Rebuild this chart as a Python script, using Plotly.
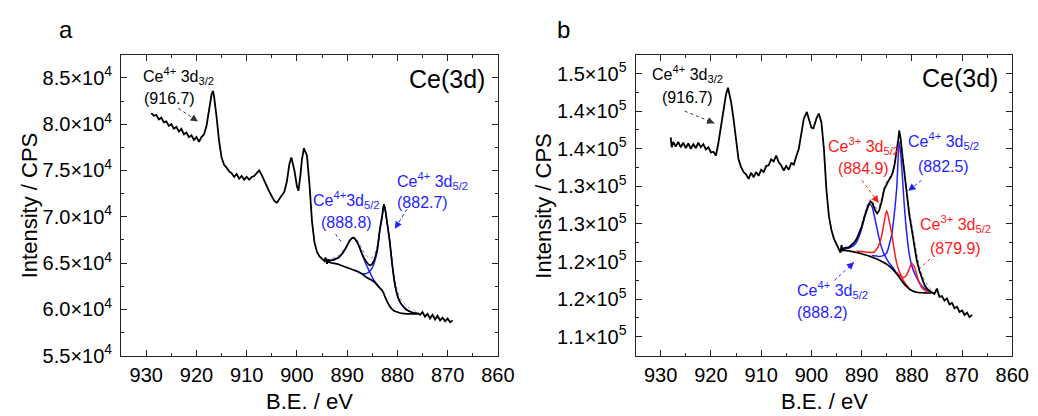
import plotly.graph_objects as go

FONT = "Liberation Sans, Arial, sans-serif"
BLUE = "#1f1fff"
RED = "#ff1a1a"
AX = "#222222"

# ---------------- panel a : Ce(3d), intensities in units of 1e4 CPS ----------------
a_raw_be = [929.0, 928.5, 928.0, 927.5, 927.0, 926.5, 926.0, 925.5, 925.0, 924.5,
            924.0, 923.5, 923.0, 922.5, 922.0, 921.5, 921.0, 920.5, 920.0, 919.5,
            919.0, 918.5, 918.0, 917.5, 917.0, 916.7, 916.5, 916.0, 915.5, 915.0,
            914.5, 914.0, 913.5, 913.0, 912.5, 912.0, 911.5, 911.0, 910.5, 910.0,
            909.5, 909.0, 908.5, 908.0, 907.5, 907.0, 906.5, 906.0, 905.5, 905.0,
            904.5, 904.0, 903.5, 903.0, 902.5, 902.0, 901.5, 901.1, 900.5, 900.0,
            899.7, 899.3, 899.0, 898.6, 898.0, 897.5, 897.0, 896.5, 896.0, 895.5,
            895.0, 894.5, 894.3, 894.0, 893.8, 893.5]
a_raw = [8.12, 8.09, 8.10, 8.05, 8.07, 8.02, 8.03, 7.98, 8.00, 7.95,
         7.97, 7.92, 7.95, 7.89, 7.91, 7.86, 7.88, 7.83, 7.86, 7.81,
         7.86, 7.89, 7.98, 8.15, 8.32, 8.36, 8.30, 8.08, 7.82, 7.64,
         7.56, 7.53, 7.49, 7.47, 7.43, 7.46, 7.41, 7.44, 7.40, 7.43,
         7.40, 7.43, 7.44, 7.47, 7.50, 7.45, 7.38, 7.33, 7.27, 7.22,
         7.17, 7.15, 7.19, 7.22, 7.27, 7.38, 7.57, 7.64, 7.50, 7.33,
         7.28, 7.45, 7.62, 7.74, 7.66, 7.35, 6.95, 6.72, 6.62, 6.57,
         6.54, 6.52, 6.56, 6.49, 6.54, 6.50]

a_tail_be = [876.0, 875.5, 875.0, 874.5, 874.0, 873.5, 873.0, 872.5, 872.0, 871.5,
             871.0, 870.5, 870.0, 869.5, 869.0]
a_tail = [5.96, 5.94, 5.97, 5.92, 5.95, 5.90, 5.94, 5.89, 5.93, 5.88,
          5.91, 5.87, 5.90, 5.86, 5.88]

a_fit_be = [894.0, 893.5, 893.0, 892.5, 892.0, 891.5, 891.0, 890.5, 890.0, 889.5,
            889.0, 888.5, 888.0, 887.5, 887.0, 886.5, 886.0, 885.5, 885.0, 884.5,
            884.0, 883.5, 883.0, 882.7, 882.5, 882.0, 881.5, 881.0, 880.5, 880.0,
            879.5, 879.0, 878.5, 878.0, 877.5, 877.0, 876.5, 876.0]
a_env = [6.53, 6.53, 6.53, 6.54, 6.55, 6.57, 6.60, 6.64, 6.69, 6.74,
         6.77, 6.765, 6.725, 6.665, 6.595, 6.54, 6.50, 6.475, 6.49, 6.55,
         6.65, 6.86, 7.02, 7.13, 7.10, 6.92, 6.72, 6.47, 6.27, 6.15,
         6.08, 6.04, 6.01, 5.99, 5.975, 5.965, 5.958, 5.955]
a_bg = [6.52, 6.51, 6.50, 6.495, 6.49, 6.48, 6.47, 6.46, 6.45, 6.44,
        6.43, 6.42, 6.41, 6.395, 6.38, 6.36, 6.34, 6.325, 6.31, 6.29,
        6.26, 6.23, 6.20, 6.17, 6.14, 6.08, 6.03, 6.00, 5.98, 5.97,
        5.96, 5.955, 5.952, 5.95, 5.95, 5.95, 5.95, 5.95]

# Ce4+ 3d5/2 (888.8)
a_c1_be = [894.0, 893.5, 893.0, 892.5, 892.0, 891.5, 891.0, 890.5, 890.0, 889.5,
           889.0, 888.5, 888.0, 887.5, 887.0, 886.5, 886.0, 885.5, 885.0, 884.5,
           884.0, 883.5, 883.0]
a_c1 = [6.525, 6.525, 6.53, 6.535, 6.55, 6.57, 6.60, 6.64, 6.69, 6.74,
        6.77, 6.76, 6.72, 6.66, 6.59, 6.52, 6.46, 6.40, 6.345, 6.30,
        6.265, 6.232, 6.20]
# Ce4+ 3d5/2 (882.7)
a_c2_be = [888.5, 888.0, 887.5, 887.0, 886.5, 886.0, 885.5, 885.0, 884.5, 884.0,
           883.5, 883.0, 882.7, 882.5, 882.0, 881.5, 881.0, 880.5, 880.0, 879.5,
           879.0, 878.5, 878.0, 877.5, 877.0, 876.5, 876.0]
a_c2 = [6.42, 6.41, 6.398, 6.385, 6.383, 6.39, 6.41, 6.45, 6.52, 6.63,
        6.85, 7.01, 7.13, 7.10, 6.92, 6.72, 6.47, 6.27, 6.15, 6.08,
        6.04, 6.01, 5.99, 5.975, 5.965, 5.958, 5.955]

a_dots_be = [893.0, 892.5, 892.0, 891.5, 891.0, 890.5, 890.0, 889.5, 889.0, 888.5,
             888.0, 887.5, 887.0, 886.5, 886.0, 885.5, 885.0, 884.5, 884.0, 883.5,
             883.0, 882.5, 882.0, 881.5, 881.0, 880.5, 880.0, 879.5, 879.0, 878.5,
             878.0, 877.5, 877.0, 876.5, 876.0]
a_dots = [6.55, 6.56, 6.57, 6.59, 6.62, 6.66, 6.70, 6.75, 6.78, 6.78,
          6.75, 6.70, 6.64, 6.60, 6.57, 6.55, 6.56, 6.60, 6.69, 6.88,
          7.03, 7.09, 6.93, 6.74, 6.50, 6.31, 6.20, 6.12, 6.08, 6.05,
          6.03, 6.01, 6.00, 5.98, 5.97]

# ---------------- panel b : Ce(3d), intensities in units of 1e5 CPS ----------------
b_raw_be = [928.0, 927.8, 927.5, 927.0, 926.5, 926.0, 925.5, 925.0, 924.5, 924.0,
            923.5, 923.0, 922.5, 922.0, 921.5, 921.0, 920.5, 920.0, 919.5, 919.0,
            918.5, 918.0, 917.5, 917.0, 916.6, 916.0, 915.5, 915.0, 914.5, 914.0,
            913.5, 913.0, 912.5, 912.0, 911.5, 911.0, 910.5, 910.0, 909.5, 909.0,
            908.5, 908.0, 907.5, 907.0, 906.5, 906.0, 905.5, 905.0, 904.5, 904.0,
            903.5, 903.0, 902.5, 902.0, 901.5, 900.9, 900.5, 900.0, 899.6, 899.0,
            898.5, 898.0, 897.5, 897.0, 896.5, 896.0, 895.5, 895.0, 894.5, 894.2,
            894.0, 893.8, 893.5, 893.0, 892.5, 892.0, 891.5, 891.0, 890.5, 890.0,
            889.5, 889.0, 888.5, 888.2, 887.8, 887.3, 886.9, 886.5, 886.0, 885.5,
            885.0, 884.6, 884.2, 883.8, 883.4, 883.0, 882.7, 882.5, 882.2, 881.9,
            881.5, 881.0, 880.5, 880.0, 879.5, 879.0, 878.5, 878.0, 877.5, 877.0,
            876.5, 876.0, 875.5, 875.0, 874.5, 874.0, 873.5, 873.0, 872.5, 872.0,
            871.5, 871.0, 870.5, 870.0, 869.5, 869.0, 868.5, 868.0]
b_raw = [1.415, 1.402, 1.409, 1.403, 1.409, 1.402, 1.408, 1.401, 1.407, 1.400,
         1.406, 1.401, 1.408, 1.402, 1.406, 1.399, 1.402, 1.395, 1.396, 1.391,
         1.408, 1.428, 1.452, 1.472, 1.481, 1.463, 1.440, 1.410, 1.386, 1.376,
         1.369, 1.366, 1.360, 1.368, 1.362, 1.369, 1.364, 1.372, 1.369, 1.377,
         1.378, 1.386, 1.383, 1.391, 1.382, 1.378, 1.371, 1.377, 1.372, 1.381,
         1.379, 1.390, 1.400, 1.420, 1.440, 1.449, 1.441, 1.428, 1.427, 1.440,
         1.447, 1.435, 1.400, 1.345, 1.310, 1.292, 1.280, 1.273, 1.268, 1.262,
         1.272, 1.264, 1.268, 1.268, 1.269, 1.272, 1.275, 1.280, 1.287, 1.296,
         1.308, 1.319, 1.327, 1.330, 1.327, 1.318, 1.314, 1.318, 1.330, 1.346,
         1.354, 1.358, 1.362, 1.368, 1.380, 1.396, 1.412, 1.424, 1.412, 1.392,
         1.370, 1.338, 1.312, 1.292, 1.270, 1.251, 1.238, 1.227, 1.219, 1.214,
         1.211, 1.209, 1.207, 1.214, 1.203, 1.204, 1.198, 1.201, 1.193, 1.195,
         1.188, 1.190, 1.183, 1.185, 1.179, 1.182, 1.176, 1.179]

b_fit_be = [894.0, 893.5, 893.0, 892.5, 892.0, 891.5, 891.0, 890.5, 890.0, 889.5,
            889.0, 888.5, 888.0, 887.5, 887.0, 886.5, 886.0, 885.5, 885.0, 884.5,
            884.0, 883.5, 883.0, 882.5, 882.0, 881.5, 881.0, 880.5, 880.0, 879.5,
            879.0, 878.5, 878.0, 877.5, 877.0, 876.5, 876.0]
b_bg = [1.2650, 1.2648, 1.2645, 1.2640, 1.2635, 1.2628, 1.2620, 1.2612, 1.2603, 1.2593,
        1.2583, 1.2572, 1.2560, 1.2547, 1.2533, 1.2518, 1.2502, 1.2485, 1.2465, 1.2440,
        1.2410, 1.2375, 1.2335, 1.2290, 1.2245, 1.2200, 1.2165, 1.2135, 1.2115, 1.2100,
        1.2092, 1.2088, 1.2085, 1.2083, 1.2082, 1.2082, 1.2082]

# Ce4+ 3d5/2 (888.2)
b_b1_be = [894.0, 893.5, 893.0, 892.5, 892.0, 891.5, 891.0, 890.5, 890.0, 889.5,
           889.0, 888.5, 888.0, 887.5, 887.0, 886.5, 886.0, 885.5, 885.0, 884.5,
           884.0, 883.5, 883.0]
b_b1 = [1.2660, 1.2668, 1.2675, 1.2680, 1.2695, 1.2718, 1.2760, 1.2832, 1.2933, 1.3063,
        1.3193, 1.3262, 1.3240, 1.3117, 1.2963, 1.2808, 1.2682, 1.2595, 1.2535, 1.2480,
        1.2440, 1.2395, 1.2345]
# Ce3+ 3d5/2 (884.9)
b_r1_be = [891.0, 890.5, 890.0, 889.5, 889.0, 888.5, 888.0, 887.5, 887.0, 886.5,
           886.0, 885.5, 885.0, 884.5, 884.0, 883.5, 883.0, 882.5, 882.0, 881.5,
           881.0, 880.5]
b_r1 = [1.2640, 1.2637, 1.2633, 1.2628, 1.2623, 1.2622, 1.2620, 1.2627, 1.2663, 1.2728,
        1.2842, 1.3025, 1.3175, 1.3040, 1.2870, 1.2655, 1.2475, 1.2370, 1.2295, 1.2230,
        1.2185, 1.2145]
# Ce4+ 3d5/2 (882.5)
b_b2_be = [888.0, 887.5, 887.0, 886.5, 886.0, 885.5, 885.0, 884.5, 884.0, 883.5,
           883.0, 882.5, 882.0, 881.5, 881.0, 880.5, 880.0, 879.5, 879.0, 878.5,
           878.0, 877.5, 877.0, 876.5, 876.0]
b_b2 = [1.2580, 1.2577, 1.2573, 1.2568, 1.2572, 1.2585, 1.2615, 1.2720, 1.2860, 1.3125,
        1.3485, 1.4090, 1.3745, 1.3250, 1.2865, 1.2595, 1.2445, 1.2350, 1.2282, 1.2218,
        1.2175, 1.2143, 1.2122, 1.2102, 1.2092]
# Ce3+ 3d5/2 (879.9)
b_r2_be = [883.0, 882.5, 882.0, 881.5, 881.0, 880.5, 880.0, 879.5, 879.0, 878.5,
           878.0, 877.5, 877.0, 876.5]
b_r2 = [1.2355, 1.2320, 1.2295, 1.2290, 1.2325, 1.2405, 1.2475, 1.2430, 1.2322, 1.2218,
        1.2155, 1.2123, 1.2102, 1.2092]

b_dots_be = [890.0, 889.5, 889.0, 888.5, 888.0, 887.5, 887.0, 886.5, 886.0, 885.5,
             885.0, 884.5, 884.0, 883.5, 883.0, 882.5, 882.0, 881.5, 881.0, 880.5,
             880.0, 879.5, 879.0, 878.5, 878.0, 877.5, 877.0, 876.5, 876.0]
b_dots = [1.300, 1.312, 1.323, 1.331, 1.333, 1.326, 1.320, 1.323, 1.334, 1.349,
          1.357, 1.361, 1.367, 1.378, 1.398, 1.424, 1.404, 1.373, 1.342, 1.318,
          1.299, 1.278, 1.259, 1.245, 1.233, 1.225, 1.219, 1.215, 1.212]

# tick labels
a_yticks = [55000, 60000, 65000, 70000, 75000, 80000, 85000]
a_yticktext = ["5.5×10<sup>4</sup>", "6.0×10<sup>4</sup>", "6.5×10<sup>4</sup>", "7.0×10<sup>4</sup>",
               "7.5×10<sup>4</sup>", "8.0×10<sup>4</sup>", "8.5×10<sup>4</sup>"]
b_yticks = [115000, 120000, 125000, 130000, 135000, 140000, 145000, 150000]
b_yticktext = ["1.1×10<sup>5</sup>", "1.2×10<sup>5</sup>", "1.2×10<sup>5</sup>", "1.3×10<sup>5</sup>",
               "1.3×10<sup>5</sup>", "1.4×10<sup>5</sup>", "1.4×10<sup>5</sup>", "1.5×10<sup>5</sup>"]


def scale(vals, k):
    return [v * k for v in vals]


def trace(x, y, color, width, xa, ya, dash=None, smooth=False):
    return go.Scatter(x=x, y=y, mode="lines", xaxis=xa, yaxis=ya, showlegend=False,
                      hoverinfo="skip",
                      line=dict(color=color, width=width, dash=dash,
                                shape="spline" if smooth else "linear", smoothing=0.8))


fig = go.Figure()

# panel a
fig.add_trace(trace(a_dots_be, scale(a_dots, 1e4), "#8a8a8a", 1, "x", "y", dash="dot"))
fig.add_trace(trace(a_c1_be, scale(a_c1, 1e4), BLUE, 1.5, "x", "y", smooth=True))
fig.add_trace(trace(a_c2_be, scale(a_c2, 1e4), BLUE, 1.5, "x", "y", smooth=True))
fig.add_trace(trace(a_fit_be, scale(a_bg, 1e4), "black", 1.7, "x", "y", smooth=True))
fig.add_trace(trace(a_fit_be, scale(a_env, 1e4), "black", 1.7, "x", "y", smooth=True))
fig.add_trace(trace(a_raw_be, scale(a_raw, 1e4), "black", 1.8, "x", "y"))
fig.add_trace(trace(a_tail_be, scale(a_tail, 1e4), "black", 1.8, "x", "y"))

# panel b
fig.add_trace(trace(b_dots_be, scale(b_dots, 1e5), "#8a8a8a", 1, "x2", "y2", dash="dot"))
fig.add_trace(trace(b_b1_be, scale(b_b1, 1e5), BLUE, 1.5, "x2", "y2", smooth=True))
fig.add_trace(trace(b_b2_be, scale(b_b2, 1e5), BLUE, 1.5, "x2", "y2", smooth=True))
fig.add_trace(trace(b_r1_be, scale(b_r1, 1e5), RED, 1.5, "x2", "y2", smooth=True))
fig.add_trace(trace(b_r2_be, scale(b_r2, 1e5), RED, 1.5, "x2", "y2", smooth=True))
fig.add_trace(trace(b_fit_be, scale(b_bg, 1e5), "black", 1.7, "x2", "y2", smooth=True))
fig.add_trace(trace(b_raw_be, scale(b_raw, 1e5), "black", 1.8, "x2", "y2"))

W, H = 1038, 416
axis_style = dict(showline=True, linecolor=AX, linewidth=1, mirror="ticks", ticks="inside",
                  ticklen=6, tickwidth=1, tickcolor=AX, showgrid=False, zeroline=False,
                  tickfont=dict(family=FONT, size=20, color="black"))
x_style = dict(axis_style, range=[935, 860], tickmode="linear", tick0=860, dtick=10,
               ticklabelstandoff=1,
               minor=dict(ticks="inside", ticklen=3, tickcolor=AX, dtick=5, tick0=860))
y_minor = dict(ticks="inside", ticklen=3, tickcolor=AX, dtick=2500, tick0=0)

fig.update_layout(
    width=W, height=H, margin=dict(l=0, r=0, t=0, b=0),
    paper_bgcolor="white", plot_bgcolor="white",
    font=dict(family=FONT, color="black"),
    xaxis=dict(x_style, domain=[115 / W, 498 / W], anchor="y"),
    yaxis=dict(axis_style, domain=[1 - 357 / H, 1 - 48 / H], anchor="x", ticklabelstandoff=4,
               range=[55000, 87500], tickmode="array", tickvals=a_yticks, ticktext=a_yticktext,
               minor=y_minor),
    xaxis2=dict(x_style, domain=[638 / W, 1021 / W], anchor="y2"),
    yaxis2=dict(axis_style, domain=[1 - 357 / H, 1 - 48 / H], anchor="x2", ticklabelstandoff=4,
                range=[112500, 152500], tickmode="array", tickvals=b_yticks, ticktext=b_yticktext,
                minor=y_minor),
)


def label(text, x, y, color, xa, ya, size=16, anchor="left"):
    fig.add_annotation(text=text, x=x, y=y, xref=xa, yref=ya, showarrow=False,
                       xanchor=anchor, yanchor="middle",
                       font=dict(family=FONT, size=size, color=color))


def arrow(tail, head, color, xa, ya):
    fig.add_shape(type="line", xref=xa, yref=ya, x0=tail[0], y0=tail[1], x1=head[0], y1=head[1],
                  line=dict(color=color, width=1, dash="dot"))
    fig.add_annotation(text="", x=head[0], y=head[1], xref=xa, yref=ya,
                       ax=head[0] + 0.3 * (tail[0] - head[0]), ay=head[1] + 0.3 * (tail[1] - head[1]),
                       axref=xa, ayref=ya, showarrow=True, arrowhead=2, arrowsize=1.6,
                       arrowwidth=0.9, arrowcolor=color)


# panel a labels
label("Ce<sup>4+</sup> 3d<sub>3/2</sub>", 931.1, 85200, "black", "x", "y")
label("(916.7)", 930.9, 82800, "black", "x", "y")
label("Ce<sup>4+</sup>3d<sub>5/2</sub>", 897.2, 71800, BLUE, "x", "y")
label("(888.8)", 895.6, 69400, BLUE, "x", "y")
label("Ce<sup>4+</sup> 3d<sub>5/2</sub>", 880.5, 73900, BLUE, "x", "y")
label("(882.7)", 880.5, 71500, BLUE, "x", "y")
label("Ce(3d)", 862.1, 84900, "black", "x", "y", size=25, anchor="right")
arrow((923.6, 81700), (919.7, 80300), "#333333", "x", "y")
arrow((892.3, 68100), (890.9, 67100), BLUE, "x", "y")
arrow((878.1, 70800), (880.5, 68700), BLUE, "x", "y")

# panel b labels
label("Ce<sup>4+</sup> 3d<sub>3/2</sub>", 932.1, 149900, "black", "x2", "y2")
label("(916.7)", 930.1, 146800, "black", "x2", "y2")
label("Ce<sup>3+</sup> 3d<sub>5/2</sub>", 897.0, 140300, RED, "x2", "y2")
label("(884.9)", 895.0, 137400, RED, "x2", "y2")
label("Ce<sup>4+</sup> 3d<sub>5/2</sub>", 881.1, 141000, BLUE, "x2", "y2")
label("(882.5)", 879.1, 137700, BLUE, "x2", "y2")
label("Ce<sup>3+</sup> 3d<sub>5/2</sub>", 878.7, 130000, RED, "x2", "y2")
label("(879.9)", 876.8, 126800, RED, "x2", "y2")
label("Ce<sup>4+</sup> 3d<sub>5/2</sub>", 903.2, 121200, BLUE, "x2", "y2")
label("(888.2)", 903.2, 118200, BLUE, "x2", "y2")
label("Ce(3d)", 862.5, 149400, "black", "x2", "y2", size=25, anchor="right")
arrow((925.2, 145000), (919.3, 143400), "#333333", "x2", "y2")
arrow((889.9, 135800), (886.6, 132800), RED, "x2", "y2")
arrow((878.1, 135800), (880.7, 134400), BLUE, "x2", "y2")
arrow((876.4, 125300), (878.3, 124200), RED, "x2", "y2")
arrow((895.4, 122500), (891.5, 124900), BLUE, "x2", "y2")

# panel letters and axis titles
for txt, px, py, size, rot in [("a", 59, 22, 24, 0), ("b", 565, 22, 24, 0),
                               ("B.E. / eV", 307, 404, 22, 0), ("B.E. / eV", 830, 404, 22, 0),
                               ("Intensity / CPS", 22, 203, 22, -90),
                               ("Intensity / CPS", 545, 203, 22, -90)]:
    fig.add_annotation(text=txt, x=px / W, y=1 - py / H, xref="paper", yref="paper",
                       showarrow=False, xanchor="center", yanchor="middle", textangle=rot,
                       font=dict(family=FONT, size=size, color="black"))

fig.write_html("out.html")
